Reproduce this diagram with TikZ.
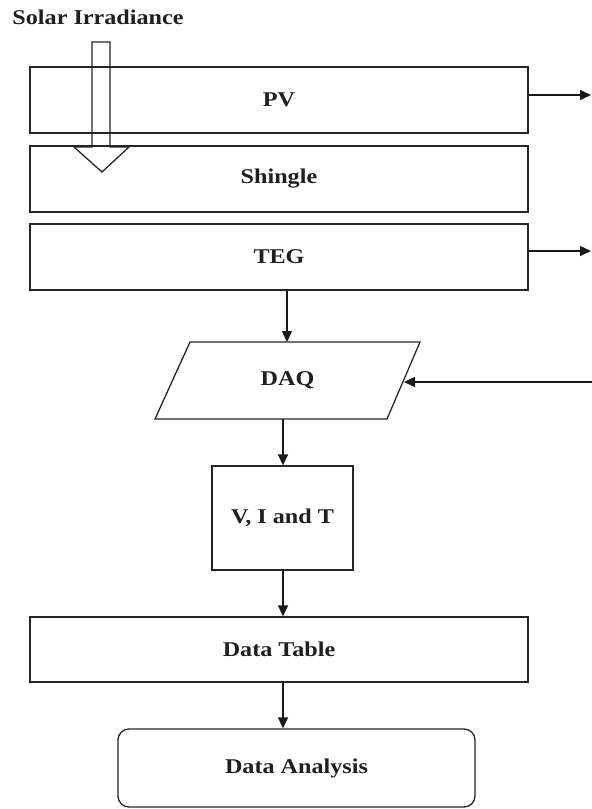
\documentclass[tikz,border=0pt]{standalone}
\usepackage{fontspec}
\setmainfont{Liberation Serif}[FakeStretch=1.15]
\usetikzlibrary{arrows.meta}
\begin{document}
\begin{tikzpicture}[x=1pt,y=-1pt,
  line width=1.3pt,
  every node/.style={font=\fontsize{21}{25}\selectfont\bfseries, text=black!88},
  box/.style={draw=black!85, rectangle, inner sep=0pt},
  rbox/.style={draw=black!85, rectangle, rounded corners=11pt, inner sep=0pt},
  arr/.style={draw=black!90, -{Triangle[length=11pt,width=10pt]}}]
\useasboundingbox (0,0) rectangle (592,809);
% boxes
\node[box, minimum width=498pt, minimum height=66pt] (pv) at (279,100) {PV};
\node[box, minimum width=498pt, minimum height=66pt] (sh) at (279,179) {Shingle};
\node[box, minimum width=498pt, minimum height=66pt] (teg) at (279,257) {TEG};
% DAQ parallelogram
\coordinate (dtl) at (190,342);
\coordinate (dtr) at (420,342);
\coordinate (dbr) at (387,419);
\coordinate (dbl) at (155,419);
\draw[draw=black!85] (dtl) -- (dtr) -- (dbr) -- (dbl) -- cycle;
\node (daq) at (287.5,380.5) {DAQ};
\coordinate (daqT) at (287,342);
\coordinate (daqB) at (283,419);
\coordinate (daqE) at (404,382);
\node[box, minimum width=141pt, minimum height=104pt] (vit) at (282.5,518) {V, I and T};
\node[box, minimum width=498pt, minimum height=65pt] (dt) at (279,649.5) {Data Table};
\node[rbox, minimum width=357pt, minimum height=78pt] (da) at (296.5,768) {Data Analysis};
% title
\node (sol) at (98,17) {Solar Irradiance};
% outgoing / incoming side arrows
\coordinate (pvout) at (591,95);
\coordinate (tegout) at (591,251);
\coordinate (daqin) at (592,382);
\draw[arr] (pv.east |- pvout) -- (pvout);
\draw[arr] (teg.east |- tegout) -- (tegout);
\draw[arr] (daqin) -- (daqE);
% vertical flow
\draw[arr] (teg.south -| daqT) -- (daqT);
\draw[arr] (daqB) -- (vit.north -| daqB);
\draw[arr] (vit.south -| daqB) -- (dt.north -| daqB);
\draw[arr] (dt.south -| daqB) -- (da.north -| daqB);
% hollow block arrow for irradiance
\draw[draw=black!85] (92,42) -- (110,42) -- (110,147) -- (129,147) -- (102,172) -- (74,147) -- (92,147) -- cycle;
\end{tikzpicture}
\end{document}
